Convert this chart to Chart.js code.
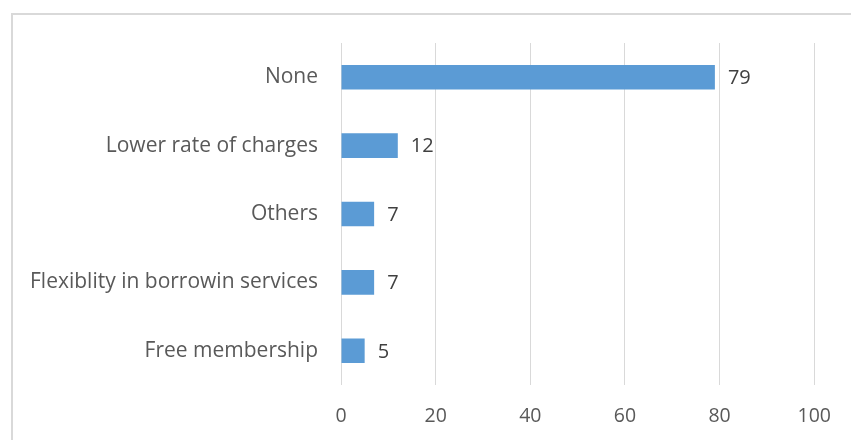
<!DOCTYPE html>
<html>
<head>
<meta charset="utf-8">
<script src="https://cdn.jsdelivr.net/npm/chart.js@4"></script>
<style>
  html, body { margin: 0; padding: 0; background: #fff; }
  #wrap { position: relative; width: 851px; height: 440px; }
</style>
</head>
<body>
<div id="wrap"><canvas id="myChart"></canvas></div>
<script>
const categories = ['None', 'Lower rate of charges', 'Others', 'Flexiblity in borrowin services', 'Free membership'];
const values = [79, 12, 7, 7, 5];
const xTicks = [0, 20, 40, 60, 80, 100];

const fontFamily = '"Open Sans", sans-serif';

// outer frame of the chart object
const framePlugin = {
    id: 'frame',
    beforeDraw(chart) {
        const ctx = chart.ctx;
        ctx.save();
        ctx.strokeStyle = '#D9D9D9';
        ctx.lineWidth = 2;
        ctx.strokeRect(12, 14, chart.width, chart.height);
        ctx.restore();
    }
};

// value labels next to bar ends
const valueLabels = {
    id: 'valueLabels',
    afterDatasetsDraw(chart) {
        const ctx = chart.ctx;
        const meta = chart.getDatasetMeta(0);
        ctx.save();
        ctx.fillStyle = '#404040';
        ctx.font = '20px ' + fontFamily;
        ctx.textAlign = 'left';
        ctx.textBaseline = 'middle';
        meta.data.forEach((bar, i) => {
            ctx.fillText(values[i], bar.x + 13, bar.y + 1);
        });
        ctx.restore();
    }
};

new Chart(document.getElementById('myChart'), {
    type: 'bar',
    data: {
        labels: categories,
        datasets: [{
            data: values,
            backgroundColor: '#5B9BD5',
            borderWidth: 0,
            barPercentage: 0.36,
            categoryPercentage: 1
        }]
    },
    options: {
        indexAxis: 'y',
        animation: false,
        responsive: true,
        maintainAspectRatio: false,
        layout: { padding: { top: 43, right: 30, left: 0, bottom: 0 } },
        plugins: {
            legend: { display: false },
            tooltip: { enabled: false }
        },
        scales: {
            x: {
                min: 0,
                max: 100,
                afterBuildTicks(scale) {
                    scale.ticks = xTicks.map(v => ({ value: v }));
                },
                afterFit(scale) { scale.height = 55; },
                grid: { color: '#D9D9D9', lineWidth: 1, drawTicks: false },
                border: { display: false },
                ticks: {
                    color: '#595959',
                    font: { size: 19.5, family: fontFamily },
                    padding: 20
                }
            },
            y: {
                afterFit(scale) { scale.width = 341; },
                grid: { display: false, drawTicks: false },
                border: { display: false },
                ticks: {
                    color: '#595959',
                    font: { size: 21, family: fontFamily },
                    padding: 23
                }
            }
        }
    },
    plugins: [framePlugin, valueLabels]
});
</script>
</body>
</html>
